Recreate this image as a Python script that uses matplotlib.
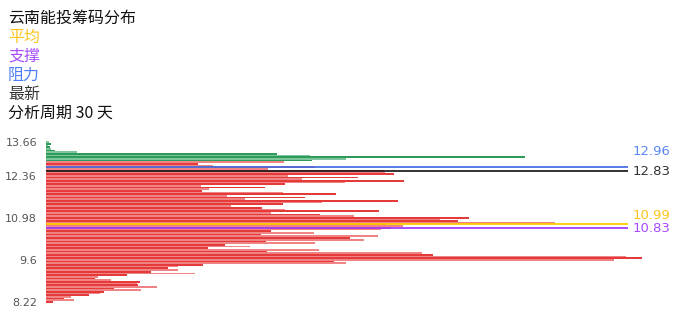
import numpy as np
import matplotlib.pyplot as plt

plt.rcParams['font.family'] = ['Noto Sans CJK SC', 'DejaVu Sans']

title = "云南能投筹码分布"
legend_names = ["平均", "支撑", "阻力", "最新"]
legend_colors = ["#fcc41a", "#a64dff", "#4d7ef7", "#333333"]
period_text = "分析周期 30 天"

# chip volume per price bin, listed from top (high price) to bottom (low price)
chips_top_down = [
    3, 5, 1.5, 4, 4.6, 9, 31, 231, 264, 479, 300, 266,
    238, 152, 167, 269, 222, 338, 339, 348, 242, 312, 256, 358, 299, 239,
    155, 219, 163, 156, 237, 290, 181, 259, 199, 352, 276, 237, 185, 216,
    239, 333, 225, 274, 308, 423, 394, 412, 509,
    340, 357, 345, 335, 225, 268, 215, 332, 304, 318, 220, 269, 179, 204,
    162, 273, 221, 376, 387, 580, 596, 568, 288, 300, 157, 132, 122, 132,
    105, 149, 81, 52, 49, 65, 94, 91, 92, 111, 68, 95, 58, 54, 43, 25,
    18, 28, 7,
]
green_count = 12

tick_index = [0, 25, 50, 75, 95]
tick_labels = ["8.22", "9.6", "10.98", "12.36", "13.66"]

line_values = [12.96, 12.83, 10.99, 10.83]
line_index = [80.0, 77.6, 46.3, 43.8]
line_colors = ["#4a6fe3", "#222222", "#ffcc00", "#a040ff"]
label_colors = ["#5b86f5", "#333333", "#fcc41a", "#a64dff"]
label_shift = [11.2, 0, 6.0, 0]

chips = np.array(chips_top_down[::-1])
n = len(chips)
idx = np.arange(n)

colors = []
for i in range(n):
    top_pos = n - 1 - i
    if top_pos < green_count:
        colors.append("#2e9b5b" if i % 2 == 0 else "#7dc59b")
    else:
        colors.append("#e53a3a" if i % 2 == 0 else "#f08383")

fig = plt.figure(figsize=(6.96, 3.2), dpi=100)
ax = fig.add_axes([46 / 696, 1 - 302.8 / 320, 604 / 696, (302.8 - 141.2) / 320])
ax.barh(idx, chips, height=1.0, color=colors, linewidth=0)

for v, y, c, lc, dy in zip(line_values, line_index, line_colors, label_colors, label_shift):
    ax.hlines(y, 0, 582, color=c, linewidth=1.3)
    ax.annotate(f"{v:.2f}", xy=(587, y), xytext=(0, dy), textcoords="offset points",
                va="center", ha="left", color=lc, fontsize=9.5,
                family="DejaVu Sans", annotation_clip=False)

ax.set_xlim(0, 604)
ax.set_ylim(-0.5, n - 0.5)
ax.set_xticks([])
ax.set_yticks(tick_index)
ax.set_yticklabels(tick_labels, family="DejaVu Sans")
ax.tick_params(axis="y", length=0, pad=6.5, labelsize=8, labelcolor="#555555")
for s in ax.spines.values():
    s.set_visible(False)

fig.text(8 / 696, 1 - 18 / 320, title, va="center", ha="left", fontsize=11.5, color="#111111")
ys = [37, 56, 75, 94]
for name, c, y in zip(legend_names, legend_colors, ys):
    fig.text(8 / 696, 1 - y / 320, name, va="center", ha="left", fontsize=11.5, color=c)
fig.text(8 / 696, 1 - 113 / 320, period_text, va="center", ha="left", fontsize=11.5, color="#111111")

fig.savefig("out.png", dpi=100)
